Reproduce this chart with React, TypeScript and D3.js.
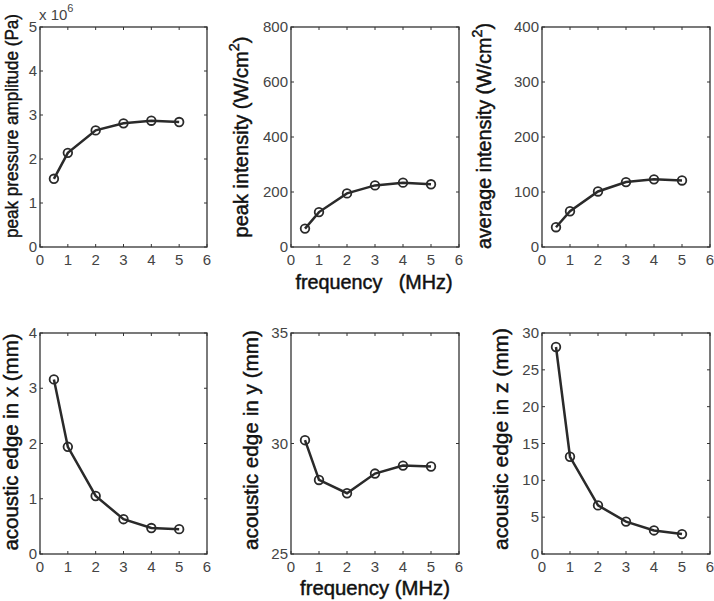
import React from "react";
import * as d3 from "d3";

const frequency = [0.5, 1, 2, 3, 4, 5];
const peakPressure = [1.55, 2.14, 2.65, 2.81, 2.87, 2.84]; // x10^6 Pa
const peakIntensity = [67, 127, 195, 224, 234, 228];
const avgIntensity = [36, 65, 101, 118, 123, 121];
const edgeX = [3.16, 1.94, 1.05, 0.63, 0.47, 0.45];
const edgeY = [30.15, 28.35, 27.75, 28.64, 29.0, 28.96];
const edgeZ = [28.1, 13.2, 6.6, 4.4, 3.2, 2.7];

const xTicks = [0, 1, 2, 3, 4, 5, 6];
const yTicks1 = [0, 1, 2, 3, 4, 5];
const yTicks2 = [0, 200, 400, 600, 800];
const yTicks3 = [0, 100, 200, 300, 400];
const yTicks4 = [0, 1, 2, 3, 4];
const yTicks5 = [25, 30, 35];
const yTicks6 = [0, 5, 10, 15, 20, 25, 30];

const FONT = "'Liberation Sans', Arial, sans-serif";
const AX = "#333";
const LINE = "#2a2a2a";
const LFS = 19.5;

type PanelProps = {
  x0: number; x1: number; y0: number; y1: number;
  values: number[]; yTicks: number[];
  ylabel: React.ReactNode; labelX: number; labelY: number; labelLen: number; labelFs?: number;
  xlabel?: string; xlabelX?: number; xlabelY?: number; xlabelLen?: number;
};

const labelStyle = { stroke: "#111", strokeWidth: 0.45, whiteSpace: "pre" as const };

function Panel(p: PanelProps) {
  const xs = d3.scaleLinear().domain([0, 6]).range([p.x0, p.x1]);
  const ys = d3.scaleLinear().domain([p.yTicks[0], p.yTicks[p.yTicks.length - 1]]).range([p.y1, p.y0]);
  const pts = frequency.map((f, i) => [xs(f), ys(p.values[i])] as [number, number]);
  const line = d3.line()(pts) || "";
  const tl = 3;
  return (
    <g>
      {xTicks.map((t) => (
        <g key={"x" + t}>
          <line x1={xs(t)} x2={xs(t)} y1={p.y1} y2={p.y1 - tl} stroke={AX} strokeWidth={1} />
          <line x1={xs(t)} x2={xs(t)} y1={p.y0} y2={p.y0 + tl} stroke={AX} strokeWidth={1} />
          <text x={xs(t)} y={p.y1 + 18} textAnchor="middle" fontSize={15} fill="#444" fontFamily={FONT}>{t}</text>
        </g>
      ))}
      {p.yTicks.map((t) => (
        <g key={"y" + t}>
          <line x1={p.x0} x2={p.x0 + tl} y1={ys(t)} y2={ys(t)} stroke={AX} strokeWidth={1} />
          <line x1={p.x1} x2={p.x1 - tl} y1={ys(t)} y2={ys(t)} stroke={AX} strokeWidth={1} />
          <text x={p.x0 - 3} y={ys(t) + 5} textAnchor="end" fontSize={15} fill="#444" fontFamily={FONT}>{t}</text>
        </g>
      ))}
      <rect x={p.x0} y={p.y0} width={p.x1 - p.x0} height={p.y1 - p.y0} fill="none" stroke={AX} strokeWidth={1.3} />
      <path d={line} fill="none" stroke={LINE} strokeWidth={2.5} />
      {pts.map((q, i) => (
        <circle key={i} cx={q[0]} cy={q[1]} r={4.3} fill="none" stroke={LINE} strokeWidth={1.8} />
      ))}
      <text transform={`translate(${p.labelX},${p.labelY}) rotate(-90)`} textAnchor="middle" fontSize={p.labelFs || LFS} fill="#111" fontFamily={FONT} style={labelStyle}
        textLength={p.labelLen} lengthAdjust="spacingAndGlyphs">{p.ylabel}</text>
      {p.xlabel && (
        <text x={p.xlabelX} y={p.xlabelY} textAnchor="middle" fontSize={LFS} fill="#111" fontFamily={FONT} style={labelStyle}
          textLength={p.xlabelLen} lengthAdjust="spacingAndGlyphs">{p.xlabel}</text>
      )}
    </g>
  );
}

export default function App() {
  const sup = (t: string) => <tspan dy={-9} fontSize={14}>{t}</tspan>;
  return (
    <svg width={714} height={601} style={{ position: "absolute", left: 0, top: 0, background: "#fff" }}>
      <rect width={714} height={601} fill="#fff" />
      <Panel x0={40} x1={207} y0={27} y1={247} values={peakPressure} yTicks={yTicks1}
        ylabel="peak pressure amplitude (Pa)" labelX={18} labelY={126} labelLen={224} labelFs={18.5} />
      <text x={39} y={20} fontSize={15} fill="#444" fontFamily={FONT}>x 10<tspan dy={-8} fontSize={11}>6</tspan></text>
      <Panel x0={291} x1={459} y0={27} y1={247} values={peakIntensity} yTicks={yTicks2}
        ylabel={<>peak intensity (W/cm{sup("2")}<tspan dy={9}>)</tspan></>} labelX={248} labelY={137} labelLen={201} />
      <text x={374} y={289} textAnchor="middle" fontSize={LFS} fill="#111" fontFamily={FONT} style={labelStyle}
        textLength={157} lengthAdjust="spacingAndGlyphs">frequency   (MHz)</text>
      <Panel x0={542} x1={710} y0={27} y1={247} values={avgIntensity} yTicks={yTicks3}
        ylabel={<>average intensity (W/cm{sup("2")}<tspan dy={9}>)</tspan></>} labelX={491} labelY={136} labelLen={226} />
      <Panel x0={40} x1={207} y0={333} y1={554} values={edgeX} yTicks={yTicks4}
        ylabel="acoustic edge in x (mm)" labelX={18} labelY={442} labelLen={217} />
      <Panel x0={291} x1={459} y0={333} y1={554} values={edgeY} yTicks={yTicks5}
        ylabel="acoustic edge in y (mm)" labelX={258} labelY={440} labelLen={220}
        xlabel="frequency (MHz)" xlabelX={375} xlabelY={595} xlabelLen={150} />
      <Panel x0={542} x1={710} y0={333} y1={554} values={edgeZ} yTicks={yTicks6}
        ylabel="acoustic edge in z (mm)" labelX={508} labelY={439} labelLen={222} />
    </svg>
  );
}
